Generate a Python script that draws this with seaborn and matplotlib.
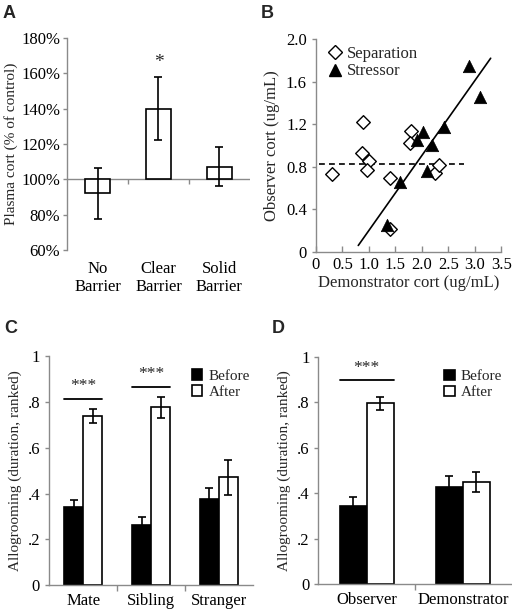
import numpy as np
import pandas as pd
import matplotlib
matplotlib.use("Agg")
import matplotlib.pyplot as plt
import seaborn as sns
from matplotlib.lines import Line2D

sns.set_theme(style="ticks")
plt.rcParams['font.family'] = ['Liberation Serif', 'DejaVu Serif']

SPINE = '#8a8a8a'

# ---- data ----
# A: plasma cort, % of control
barrier_labels = ["No\nBarrier", "Clear\nBarrier", "Solid\nBarrier"]
barrier_cort = [92, 140, 107]
barrier_err = [14.5, 18, 11]
barrier_stars = ["", "*", ""]

# B: observer vs demonstrator cort
sep_x = [0.30, 0.88, 0.87, 1.00, 0.96, 1.39, 1.39, 1.80, 1.78, 2.24, 2.32]
sep_y = [0.73, 1.22, 0.93, 0.85, 0.77, 0.69, 0.21, 1.14, 1.02, 0.74, 0.82]
str_x = [1.34, 1.58, 1.91, 2.02, 2.10, 2.19, 2.41, 2.90, 3.10]
str_y = [0.25, 0.66, 1.05, 1.13, 0.76, 1.00, 1.17, 1.75, 1.46]
fit_span = [0.8, 3.3]
mean_span = [0.05, 2.8]

# C: allogrooming by partner type
partner_labels = ["Mate", "Sibling", "Stranger"]
partner_before = [0.339, 0.262, 0.376]
partner_before_err = [0.034, 0.034, 0.047]
partner_after = [0.739, 0.777, 0.470]
partner_after_err = [0.030, 0.045, 0.076]
partner_sig = [0.814, 0.866, None]

# D: allogrooming by role
role_labels = ["Observer", "Demonstrator"]
role_before = [0.344, 0.429]
role_before_err = [0.040, 0.047]
role_after = [0.795, 0.449]
role_after_err = [0.029, 0.044]
role_sig = [0.897, None]


def style_axes(ax):
    sns.despine(ax=ax)
    for s in ["left", "bottom"]:
        ax.spines[s].set_color(SPINE)
        ax.spines[s].set_linewidth(1.0)
    ax.tick_params(colors=SPINE, labelcolor='black', labelsize=12, width=1.0)


def add_errorbars(ax, errs):
    for patch, e in zip(ax.patches[:len(errs)], errs):
        x = patch.get_x() + patch.get_width() / 2
        y = patch.get_y() + patch.get_height()
        ax.errorbar(x, y, yerr=e, fmt='none', ecolor='black',
                    elinewidth=1.2, capsize=3, capthick=1.2, zorder=5)


def grouped(ax, labels, before, before_err, after, after_err, sig, legend_x):
    df = pd.DataFrame({
        "group": labels * 2,
        "phase": ["Before"] * len(labels) + ["After"] * len(labels),
        "value": before + after,
    })
    sns.barplot(data=df, x="group", y="value", hue="phase",
                hue_order=["Before", "After"],
                palette={"Before": "black", "After": "white"},
                edgecolor="black", linewidth=1.2, width=0.56,
                errorbar=None, ax=ax, saturation=1)
    add_errorbars(ax, before_err + after_err)
    handles, labs = ax.get_legend_handles_labels()
    ax.legend(handles, labs, loc='upper left', bbox_to_anchor=(legend_x, 0.97),
              frameon=False, fontsize=11, handlelength=0.7, handleheight=0.7,
              handletextpad=0.4, labelspacing=0.15, borderaxespad=0)
    for i, h in enumerate(sig):
        if h is None:
            continue
        ax.plot([i - 0.28, i + 0.28], [h, h], color='black', lw=1.3)
        ax.text(i, h + 0.055, "***", ha='center', va='center', fontsize=12.5)
    style_axes(ax)
    ax.set_ylim(0, 1)
    ax.set_xlim(-0.5, len(labels) - 0.5)
    ax.set_yticks([0, 0.2, 0.4, 0.6, 0.8, 1.0])
    ax.set_yticklabels(["0", ".2", ".4", ".6", ".8", "1"])
    ax.set_xticks(range(len(labels)))
    ax.set_xticklabels(labels)
    ax.set_xticks(np.arange(0.5, len(labels) - 0.5), minor=True)
    ax.tick_params(axis='x', which='major', length=0, pad=6)
    ax.tick_params(axis='x', which='minor', length=4, color=SPINE)
    ax.tick_params(axis='y', length=3)
    ax.set_xlabel("")
    ax.set_ylabel("Allogrooming (duration, ranked)", fontsize=11, labelpad=4)


fig = plt.figure(figsize=(5.12, 6.11), dpi=100)

# ---- A ----
axA = fig.add_axes([0.131, 0.591, 0.357, 0.347])
dfA = pd.DataFrame({"cond": barrier_labels,
                    "change": [v - 100 for v in barrier_cort]})
sns.barplot(data=dfA, x="cond", y="change", color="white", edgecolor="black",
            linewidth=1.2, width=0.41, errorbar=None, bottom=100, ax=axA,
            saturation=1)
add_errorbars(axA, barrier_err)
for i, s in enumerate(barrier_stars):
    if s:
        axA.text(i, barrier_cort[i] + barrier_err[i] + 8, s, ha='center',
                 va='center', fontsize=14)
style_axes(axA)
axA.spines['bottom'].set_visible(False)
axA.axhline(100, color=SPINE, lw=1.0, zorder=0)
axA.vlines([0.5, 1.5], 97.5, 100, color=SPINE, lw=1.0)
axA.set_xlim(-0.5, 2.5)
axA.set_ylim(60, 180)
axA.set_yticks(range(60, 181, 20))
axA.set_yticklabels([f"{v}%" for v in range(60, 181, 20)])
axA.tick_params(axis='y', length=3, labelsize=12, pad=2)
axA.tick_params(axis='x', length=0, pad=8)
axA.set_xlabel("")
axA.set_ylabel("Plasma cort (% of control)", fontsize=11, labelpad=2)

# ---- B ----
axB = fig.add_axes([0.617, 0.588, 0.362, 0.348])
dfB = pd.DataFrame({"demo": sep_x + str_x, "obs": sep_y + str_y,
                    "cond": ["Separation"] * len(sep_x) + ["Stressor"] * len(str_x)})
sns.scatterplot(data=dfB[dfB.cond == "Separation"], x="demo", y="obs",
                marker='D', s=48, facecolor='white', edgecolor='black',
                linewidth=1.0, ax=axB, zorder=3)
sns.scatterplot(data=dfB[dfB.cond == "Stressor"], x="demo", y="obs",
                marker='^', s=80, color='black', edgecolor='black',
                linewidth=0.5, ax=axB, zorder=4)
slope, icpt = np.polyfit(str_x, str_y, 1)
fx = np.array(fit_span)
axB.plot(fx, slope * fx + icpt, color='black', lw=1.2, zorder=2)
axB.plot(mean_span, [np.mean(sep_y)] * 2, color='black', lw=1.2, ls=(0, (3.5, 2.5)),
         zorder=2)
style_axes(axB)
axB.set_xlim(0, 3.5)
axB.set_ylim(0, 2.0)
axB.set_xticks(np.arange(0, 3.51, 0.5))
axB.set_xticklabels(["0"] + [f"{v:.1f}" for v in np.arange(0.5, 3.51, 0.5)])
axB.set_yticks(np.arange(0, 2.01, 0.4))
axB.set_yticklabels(["0"] + [f"{v:.1f}" for v in np.arange(0.4, 2.01, 0.4)])
axB.tick_params(axis='x', direction='in', length=4, pad=4)
axB.tick_params(axis='y', length=3)
axB.set_xlabel("Demonstrator cort (ug/mL)", fontsize=12, labelpad=1)
axB.set_ylabel("Observer cort (ug/mL)", fontsize=12, labelpad=4)
legB = [Line2D([], [], marker='D', ls='none', mfc='white', mec='black', ms=7.5,
               mew=1.0, label='Separation'),
        Line2D([], [], marker='^', ls='none', mfc='black', mec='black', ms=9,
               label='Stressor')]
axB.legend(handles=legB, loc='upper left', bbox_to_anchor=(0.03, 1.0), frameon=False,
           fontsize=12, handlelength=0.8, handletextpad=0.3, labelspacing=0.1,
           borderaxespad=0)

# ---- C ----
axC = fig.add_axes([0.096, 0.0425, 0.398, 0.3745])
grouped(axC, partner_labels, partner_before, partner_before_err,
        partner_after, partner_after_err, partner_sig, 0.67)

# ---- D ----
axD = fig.add_axes([0.622, 0.044, 0.376, 0.372])
grouped(axD, role_labels, role_before, role_before_err,
        role_after, role_after_err, role_sig, 0.62)

# panel letters
for x, y, lab in [(0.004, 0.992, "A"), (0.510, 0.992, "B"),
                  (0.008, 0.476, "C"), (0.530, 0.476, "D")]:
    fig.text(x, y, lab, fontsize=13, fontweight='bold', family='Liberation Sans',
             va='top', ha='left')

fig.savefig("out.png", dpi=100)
